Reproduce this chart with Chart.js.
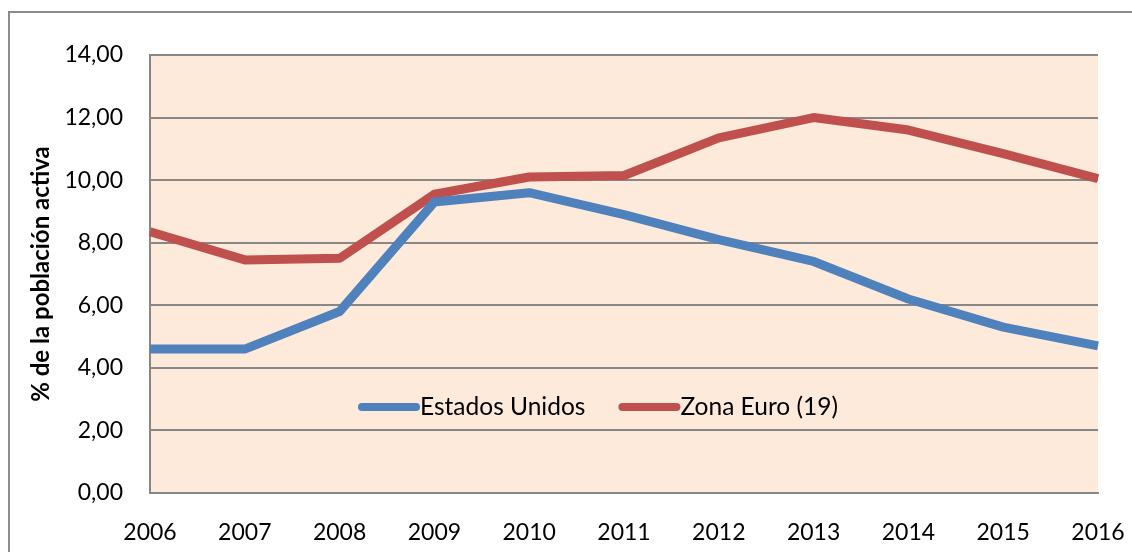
<!DOCTYPE html>
<html lang="es">
<head>
<meta charset="utf-8">
<title>Tasa de desempleo</title>
<script src="https://cdn.jsdelivr.net/npm/chart.js@4.4.1/dist/chart.umd.min.js"></script>
<style>
  html, body {
    margin: 0;
    padding: 0;
    background: #ffffff;
    overflow: hidden;
  }
  .frame {
    position: absolute;
    left: 8px;
    top: 11px;
    width: 1200px;
    height: 600px;
    border: 2px solid #8c8c8c;
  }
  .wrap {
    position: absolute;
    left: 0;
    top: 0;
    width: 1132px;
    height: 552px;
  }
</style>
</head>
<body>
<div class="frame"></div>
<div class="wrap"><canvas id="paro-chart"></canvas></div>
<script>
const years = ['2006', '2007', '2008', '2009', '2010', '2011', '2012', '2013', '2014', '2015', '2016'];
const estadosUnidos = [4.6, 4.6, 5.8, 9.3, 9.6, 8.9, 8.1, 7.4, 6.2, 5.3, 4.7];
const zonaEuro = [8.35, 7.45, 7.5, 9.55, 10.1, 10.15, 11.35, 12.0, 11.6, 10.85, 10.05];
const seriesNames = ['Estados Unidos', 'Zona Euro (19)'];
const yAxisTitle = '% de la población activa';

const FONT = "Lato, 'Open Sans', sans-serif";
const GRID = '#878787';

Chart.defaults.font.family = FONT;
Chart.defaults.color = '#000000';

// fondo del área de trazado
const plotBackground = {
  id: 'plotBackground',
  beforeDraw(chart) {
    const { ctx, chartArea } = chart;
    ctx.save();
    ctx.fillStyle = '#fdeada';
    ctx.fillRect(chartArea.left, chartArea.top, chartArea.right - chartArea.left, chartArea.bottom - chartArea.top);
    ctx.restore();
  },
};

// leyenda dentro del área de trazado, como en el original
const insideLegend = {
  id: 'insideLegend',
  afterDatasetsDraw(chart) {
    const { ctx, chartArea } = chart;
    const y = chartArea.top + 352;
    let x = chartArea.left + 212;
    ctx.save();
    ctx.font = `24.5px ${FONT}`;
    ctx.textBaseline = 'middle';
    ctx.textAlign = 'left';
    chart.data.datasets.forEach((ds) => {
      ctx.strokeStyle = ds.borderColor;
      ctx.lineWidth = 8;
      ctx.lineCap = 'round';
      ctx.beginPath();
      ctx.moveTo(x, y);
      ctx.lineTo(x + 54, y);
      ctx.stroke();
      ctx.fillStyle = '#000000';
      ctx.fillText(ds.label, x + 58, y);
      x += 58 + ctx.measureText(ds.label).width + 37;
    });
    ctx.restore();
  },
};

const canvas = document.getElementById('paro-chart');

new Chart(canvas, {
  type: 'line',
  data: {
    labels: years,
    datasets: [
      {
        label: seriesNames[0],
        data: estadosUnidos,
        borderColor: '#4f81bd',
        borderWidth: 9,
        pointRadius: 0,
        borderJoinStyle: 'round',
        tension: 0,
      },
      {
        label: seriesNames[1],
        data: zonaEuro,
        borderColor: '#c0504d',
        borderWidth: 9,
        pointRadius: 0,
        borderJoinStyle: 'round',
        tension: 0,
      },
    ],
  },
  options: {
    responsive: true,
    maintainAspectRatio: false,
    animation: false,
    layout: {
      padding: { left: 0, top: 55, right: 34, bottom: 0 },
    },
    plugins: {
      legend: { display: false },
      tooltip: { enabled: false },
    },
    scales: {
      x: {
        offset: false,
        grid: { display: false, drawTicks: false },
        border: { display: true, color: GRID, width: 2 },
        ticks: {
          font: { size: 23 },
          color: '#000000',
          padding: 26,
          maxRotation: 0,
          autoSkip: false,
        },
        afterFit(scale) {
          scale.height = 59;
          scale.paddingLeft = 0;
          scale.paddingRight = 0;
        },
      },
      y: {
        min: 0,
        max: 14,
        grid: { color: GRID, lineWidth: 2, drawTicks: false },
        border: { display: true, color: GRID, width: 2 },
        ticks: {
          stepSize: 2,
          font: { size: 23 },
          color: '#000000',
          padding: 27,
          callback(value) {
            return value.toFixed(2).replace('.', ',');
          },
        },
        title: {
          display: true,
          text: yAxisTitle,
          font: { size: 24, weight: 'bold' },
          color: '#000000',
          padding: { top: 27, bottom: 0 },
        },
        afterFit(scale) {
          scale.width = 150;
        },
      },
    },
  },
  plugins: [plotBackground, insideLegend],
});
</script>
</body>
</html>
